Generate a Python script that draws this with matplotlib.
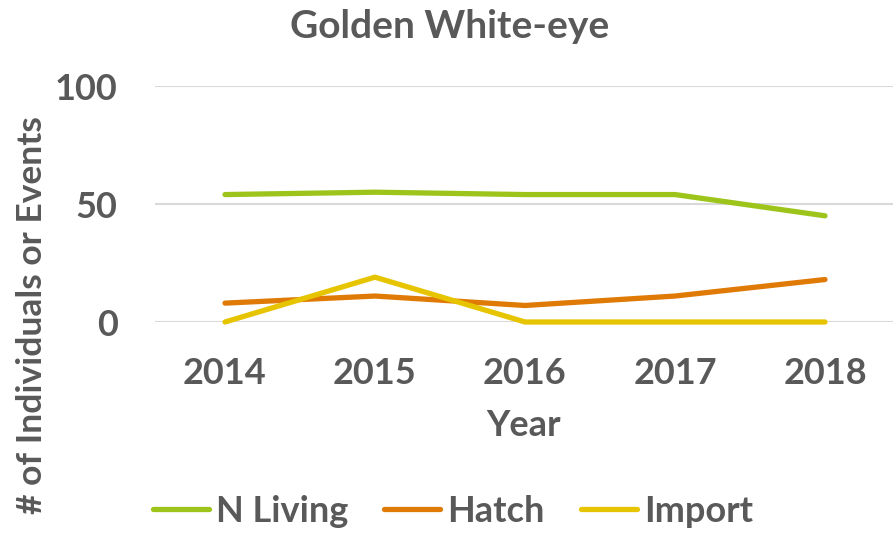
import matplotlib
matplotlib.use('Agg')
import matplotlib.pyplot as plt

YEARS = ['2014', '2015', '2016', '2017', '2018']
N_LIVING = [54, 55, 54, 54, 45]
HATCH = [8, 11, 7, 11, 18]
IMPORT = [0, 19, 0, 0, 0]

TEXT = '#595959'
plt.rcParams['font.family'] = ['Lato', 'DejaVu Sans']
plt.rcParams['font.weight'] = 'bold'

fig = plt.figure(figsize=(8.94, 5.36), dpi=100)
ax = fig.add_axes([155/894, 1 - 322/536, 738/894, 236/536])

x = list(range(len(YEARS)))
ax.plot(x, N_LIVING, color='#9DC41A', lw=3.8, solid_capstyle='round', label='N Living', zorder=3, clip_on=False)
ax.plot(x, HATCH, color='#E07A06', lw=3.8, solid_capstyle='round', label='Hatch', zorder=3, clip_on=False)
ax.plot(x, IMPORT, color='#E6C500', lw=3.8, solid_capstyle='round', label='Import', zorder=4, clip_on=False)

ax.set_xlim(-70/150, 4 + 68/150)
ax.set_ylim(0, 100)
ax.set_yticks([0, 50, 100])
ax.set_xticks(x)
ax.set_xticklabels(YEARS)
ax.grid(axis='y', color='#D9D9D9', lw=1.5)
ax.set_axisbelow(True)
for s in ax.spines.values():
    s.set_visible(False)
ax.tick_params(axis='both', length=0, labelsize=26, labelcolor=TEXT)
ax.tick_params(axis='y', pad=27)
ax.tick_params(axis='x', pad=25)

ax.set_xlabel('Year', fontsize=26, color=TEXT, fontweight='bold', labelpad=14)
ax.set_ylabel('# of Individuals or Events', fontsize=25.5, color=TEXT, fontweight='bold', va='center')
ax.yaxis.set_label_coords(-123/738, (322-315)/236)

fig.text(450/894, 1 - 27/536, 'Golden White-eye', ha='center', va='center',
         fontsize=28, color=TEXT, fontweight='bold')

leg = fig.legend(loc='center', bbox_to_anchor=(453/894, 1 - 511/536), ncol=3, frameon=False,
                 fontsize=26, handlelength=1.55, handletextpad=0.2, columnspacing=1.0)
for t in leg.get_texts():
    t.set_color(TEXT)

fig.savefig('out.png', dpi=100)
